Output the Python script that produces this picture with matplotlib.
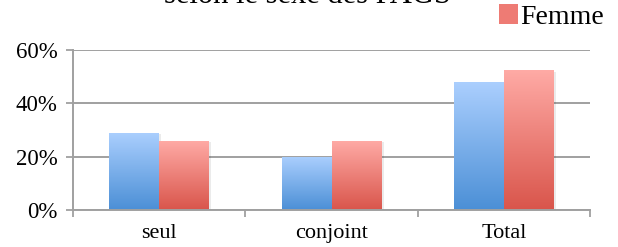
import numpy as np
import matplotlib.pyplot as plt
from matplotlib.patches import Patch
from matplotlib.colors import LinearSegmentedColormap

# données
categories = ['seul', 'conjoint', 'Total']
homme = [29, 20, 48]
femme = [26, 26, 52.5]
y_ticks = [0, 20, 40, 60]
titre = 'selon le sexe des PAGS'

plt.rcParams['font.family'] = ['Liberation Serif', 'DejaVu Serif']

fig = plt.figure(figsize=(6.18, 2.47), dpi=100)
ax = fig.add_axes([73 / 618, 1 - 210 / 247, 517 / 618, 160 / 247])

x = np.arange(len(categories))
w = 0.29
bleu = LinearSegmentedColormap.from_list('bleu', ['#4b8fd6', '#abcffe'])
rouge = LinearSegmentedColormap.from_list('rouge', ['#d9554b', '#ffaba6'])
grad = np.linspace(0, 1, 256).reshape(-1, 1)

for dx, vals, cmap in [(-w / 2, homme, bleu), (w / 2, femme, rouge)]:
    # ombre legere
    ax.bar(x + dx + 0.012, vals, w, bottom=-0.6, color='#000000', alpha=0.08, zorder=2)
    bars = ax.bar(x + dx, vals, w, color='none', zorder=3)
    for b in bars:
        x0, y0 = b.get_x(), b.get_y()
        im = ax.imshow(grad, cmap=cmap, origin='lower', aspect='auto',
                       extent=[x0, x0 + b.get_width(), y0, y0 + b.get_height()],
                       zorder=3)
        im.set_clip_path(b)

ax.set_xlim(-0.5, 2.5)
ax.set_ylim(0, 60)
ax.set_yticks(y_ticks)
ax.set_yticklabels([f'{v}%' for v in y_ticks])
ax.set_xticks(x)
ax.set_xticklabels(categories)
ax.set_xticks([-0.5, 0.5, 1.5, 2.5], minor=True)
ax.tick_params(axis='x', which='major', length=0, pad=10, labelsize=16)
ax.tick_params(axis='x', which='minor', length=5, width=1.3, color='#a0a0a0')
ax.tick_params(axis='y', length=5, width=1.3, color='#a0a0a0', pad=6, labelsize=16.5)
ax.yaxis.grid(True, color='#a0a0a0', lw=1.4, zorder=0)
ax.set_axisbelow(True)
for s in ['top', 'right']:
    ax.spines[s].set_visible(False)
for s in ['left', 'bottom']:
    ax.spines[s].set_color('#a0a0a0')
    ax.spines[s].set_linewidth(1.4)
    ax.spines[s].set_zorder(4)

# titre coupé en haut de l'image
fig.text(307 / 618, 1 - 3 / 247, titre, ha='center', va='baseline', fontsize=22)

fig.legend(handles=[Patch(facecolor='#ee7b74')], labels=['Femme'],
           loc='center left', bbox_to_anchor=(499 / 618, 1 - 17 / 247),
           frameon=False, fontsize=20, handlelength=0.7, handleheight=0.7,
           handletextpad=0.05, borderpad=0, borderaxespad=0)

fig.savefig('out.png', dpi=100)
